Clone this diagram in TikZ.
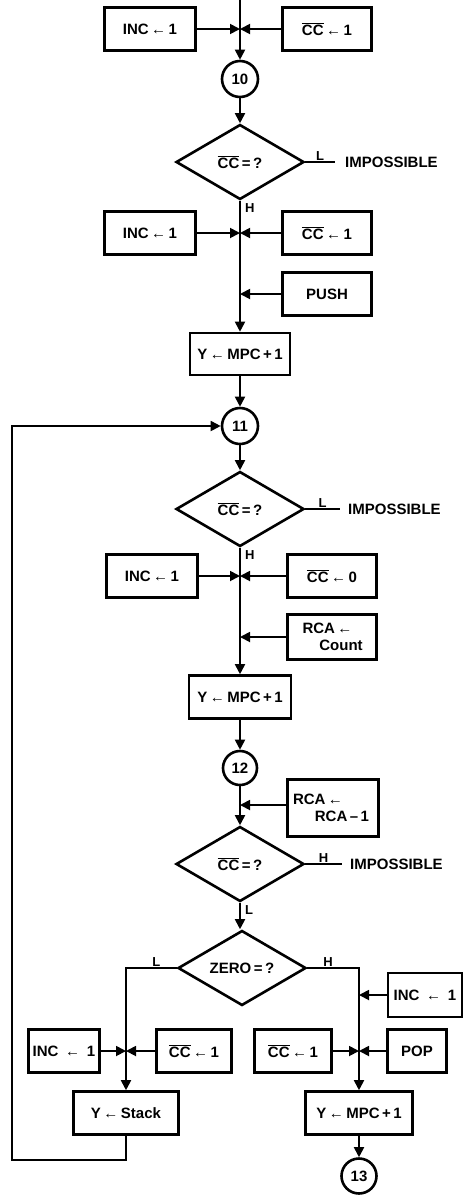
\documentclass[tikz,border=0pt]{standalone}
\usepackage{fontspec}
\setmainfont{Liberation Sans}
\usetikzlibrary{arrows.meta,shapes.geometric}

\newcommand{\ccb}{$\overline{\mbox{CC}}$}
\newcommand{\la}{\,←\,}

\tikzset{
box/.style={
draw,
line width=2.6pt,
minimum height=43pt,
inner sep=2pt,
align=center,
font=\bfseries\fontsize{15}{17}\selectfont
},
test/.style={
draw,
diamond,
aspect=1.7,
line width=2.6pt,
inner sep=0pt,
minimum width=128pt,
minimum height=75pt,
font=\bfseries\fontsize{15}{17}\selectfont
},
conn/.style={
draw,
circle,
line width=2.6pt,
minimum size=36pt,
inner sep=0pt,
font=\bfseries\fontsize{15}{17}\selectfont
},
flow/.style={
line width=1.8pt,
-{Triangle[length=10pt,width=10pt]}
},
wire/.style={
line width=1.8pt
},
lbl/.style={
font=\bfseries\fontsize{13}{15}\selectfont,
inner sep=1pt
},
note/.style={
font=\bfseries\fontsize{15}{17}\selectfont,
anchor=west,
inner sep=0pt
}
}

\begin{document}
\begin{tikzpicture}[x=1pt,y=-1pt]

\useasboundingbox (0,0) rectangle (466,1195);

% Entree et bloc 10
\node[box,minimum width=91pt] (inc1) at (150,29) {INC\la1};
\node[box,minimum width=89pt] (cc1) at (327,29) {\ccb\la1};
\coordinate (top) at (240,0);
\coordinate (j1) at (240,29);
\node[conn] (c10) at (240,79) {10};

\node[test] (d1) at (240,162) {\ccb\,=\,?};
\node[note] (imp1) at (345,162) {IMPOSSIBLE};

\node[box,minimum width=91pt] (inc2) at (150,233) {INC\la1};
\node[box,minimum width=89pt] (cc2) at (327,233) {\ccb\la1};
\node[box,minimum width=89pt] (push) at (327,294) {PUSH};
\coordinate (j2) at (240,233);
\coordinate (j3) at (240,294);
\node[box,minimum width=100pt,minimum height=42pt] (y1) at (240,354) {Y\la MPC\,+\,1};

% Bloc 11
\node[conn] (c11) at (240,426) {11};
\node[test] (d2) at (240,509) {\ccb\,=\,?};
\node[note] (imp2) at (348,509) {IMPOSSIBLE};

\node[box,minimum width=91pt] (inc3) at (152,576) {INC\la1};
\node[box,minimum width=89pt] (cc0) at (332,576) {\ccb\la0};
\node[box,minimum width=89pt,minimum height=45pt] (rca1) at (332,637) {RCA\,←\hspace*{0.6em}\\\hspace*{1.2em}Count};
\coordinate (j4) at (240,576);
\coordinate (j5) at (240,637);
\node[box,minimum width=102pt] (y2) at (240,697) {Y\la MPC\,+\,1};

% Bloc 12
\node[conn,minimum size=34pt] (c12) at (240,768) {12};
\node[box,minimum width=91pt,minimum height=57pt] (rca2) at (333,808) {RCA\,←\hspace*{2em}\\\hspace*{1.2em}RCA\,–\,1};
\coordinate (j6) at (240,805);
\node[test] (d3) at (240,864) {\ccb\,=\,?};
\node[note] (imp3) at (350,864) {IMPOSSIBLE};

\node[test] (d4) at (242,968) {ZERO\,=\,?};

% Branche L
\node[box,minimum width=71pt] (inc5) at (64,1051) {INC \,←\, 1};
\node[box,minimum width=75pt] (cc3) at (194,1051) {\ccb\la1};
\coordinate (j7) at (126,1051);
\node[box,minimum width=105pt] (ystack) at (126,1113) {Y\la Stack};
\coordinate (loop) at (12,1160);

% Branche H
\node[box,minimum width=74pt,minimum height=44pt] (inc4) at (425,995) {INC \,←\, 1};
\coordinate (j8) at (359,995);
\node[box,minimum width=77pt] (cc4) at (293,1051) {\ccb\la1};
\node[box,minimum width=59pt] (pop) at (417,1051) {POP};
\coordinate (j9) at (359,1051);
\node[box,minimum width=107pt] (y3) at (359,1113) {Y\la MPC\,+\,1};
\node[conn,minimum size=35pt] (c13) at (359,1176) {13};

% Liaisons
\draw[flow] (top) -- (c10.north);
\draw[flow] (inc1) -- (j1);
\draw[flow] (cc1) -- (j1);
\draw[flow] (c10.south) -- (d1.north);
\draw[wire] (d1.east) -- node[lbl,above]{L} ([xshift=-10pt]imp1.west);
\draw[flow] (d1.south) -- (y1.north);
\node[lbl,anchor=north west] at ([xshift=4pt,yshift=-2pt]d1.south) {H};
\draw[flow] (inc2) -- (j2);
\draw[flow] (cc2) -- (j2);
\draw[flow] (push) -- (j3);

\draw[flow] (y1.south) -- (c11.north);
\draw[flow] (c11.south) -- (d2.north);
\draw[wire] (d2.east) -- node[lbl,above]{L} ([xshift=-8pt]imp2.west);
\draw[flow] (d2.south) -- (y2.north);
\node[lbl,anchor=north west] at ([xshift=4pt,yshift=-2pt]d2.south) {H};
\draw[flow] (inc3) -- (j4);
\draw[flow] (cc0) -- (j4);
\draw[flow] (rca1) -- (j5);

\draw[flow] (y2.south) -- (c12.north);
\draw[flow] (c12.south) -- (d3.north);
\draw[flow] (rca2.west |- j6) -- (j6);
\draw[wire] (d3.east) -- node[lbl,above]{H} ([xshift=-8pt]imp3.west);
\draw[flow] (d3.south) -- (d4.north -| d3.south);
\node[lbl,anchor=north west] at ([xshift=4pt,yshift=-2pt]d3.south) {L};

\draw[flow] (d4.west) -- node[lbl,above,pos=0.4]{L} (d4.west -| ystack.north) -- (ystack.north);
\draw[flow] (inc5) -- (j7);
\draw[flow] (cc3) -- (j7);
\draw[flow] (d4.east) -- node[lbl,above,pos=0.4]{H} (d4.east -| y3.north) -- (y3.north);
\draw[flow] (inc4) -- (j8);
\draw[flow] (cc4) -- (j9);
\draw[flow] (pop) -- (j9);
\draw[flow] (y3.south) -- (c13.north);

% Retour vers 11
\draw[flow] (ystack.south) |- (loop) |- (c11.west);

\end{tikzpicture}
\end{document}
